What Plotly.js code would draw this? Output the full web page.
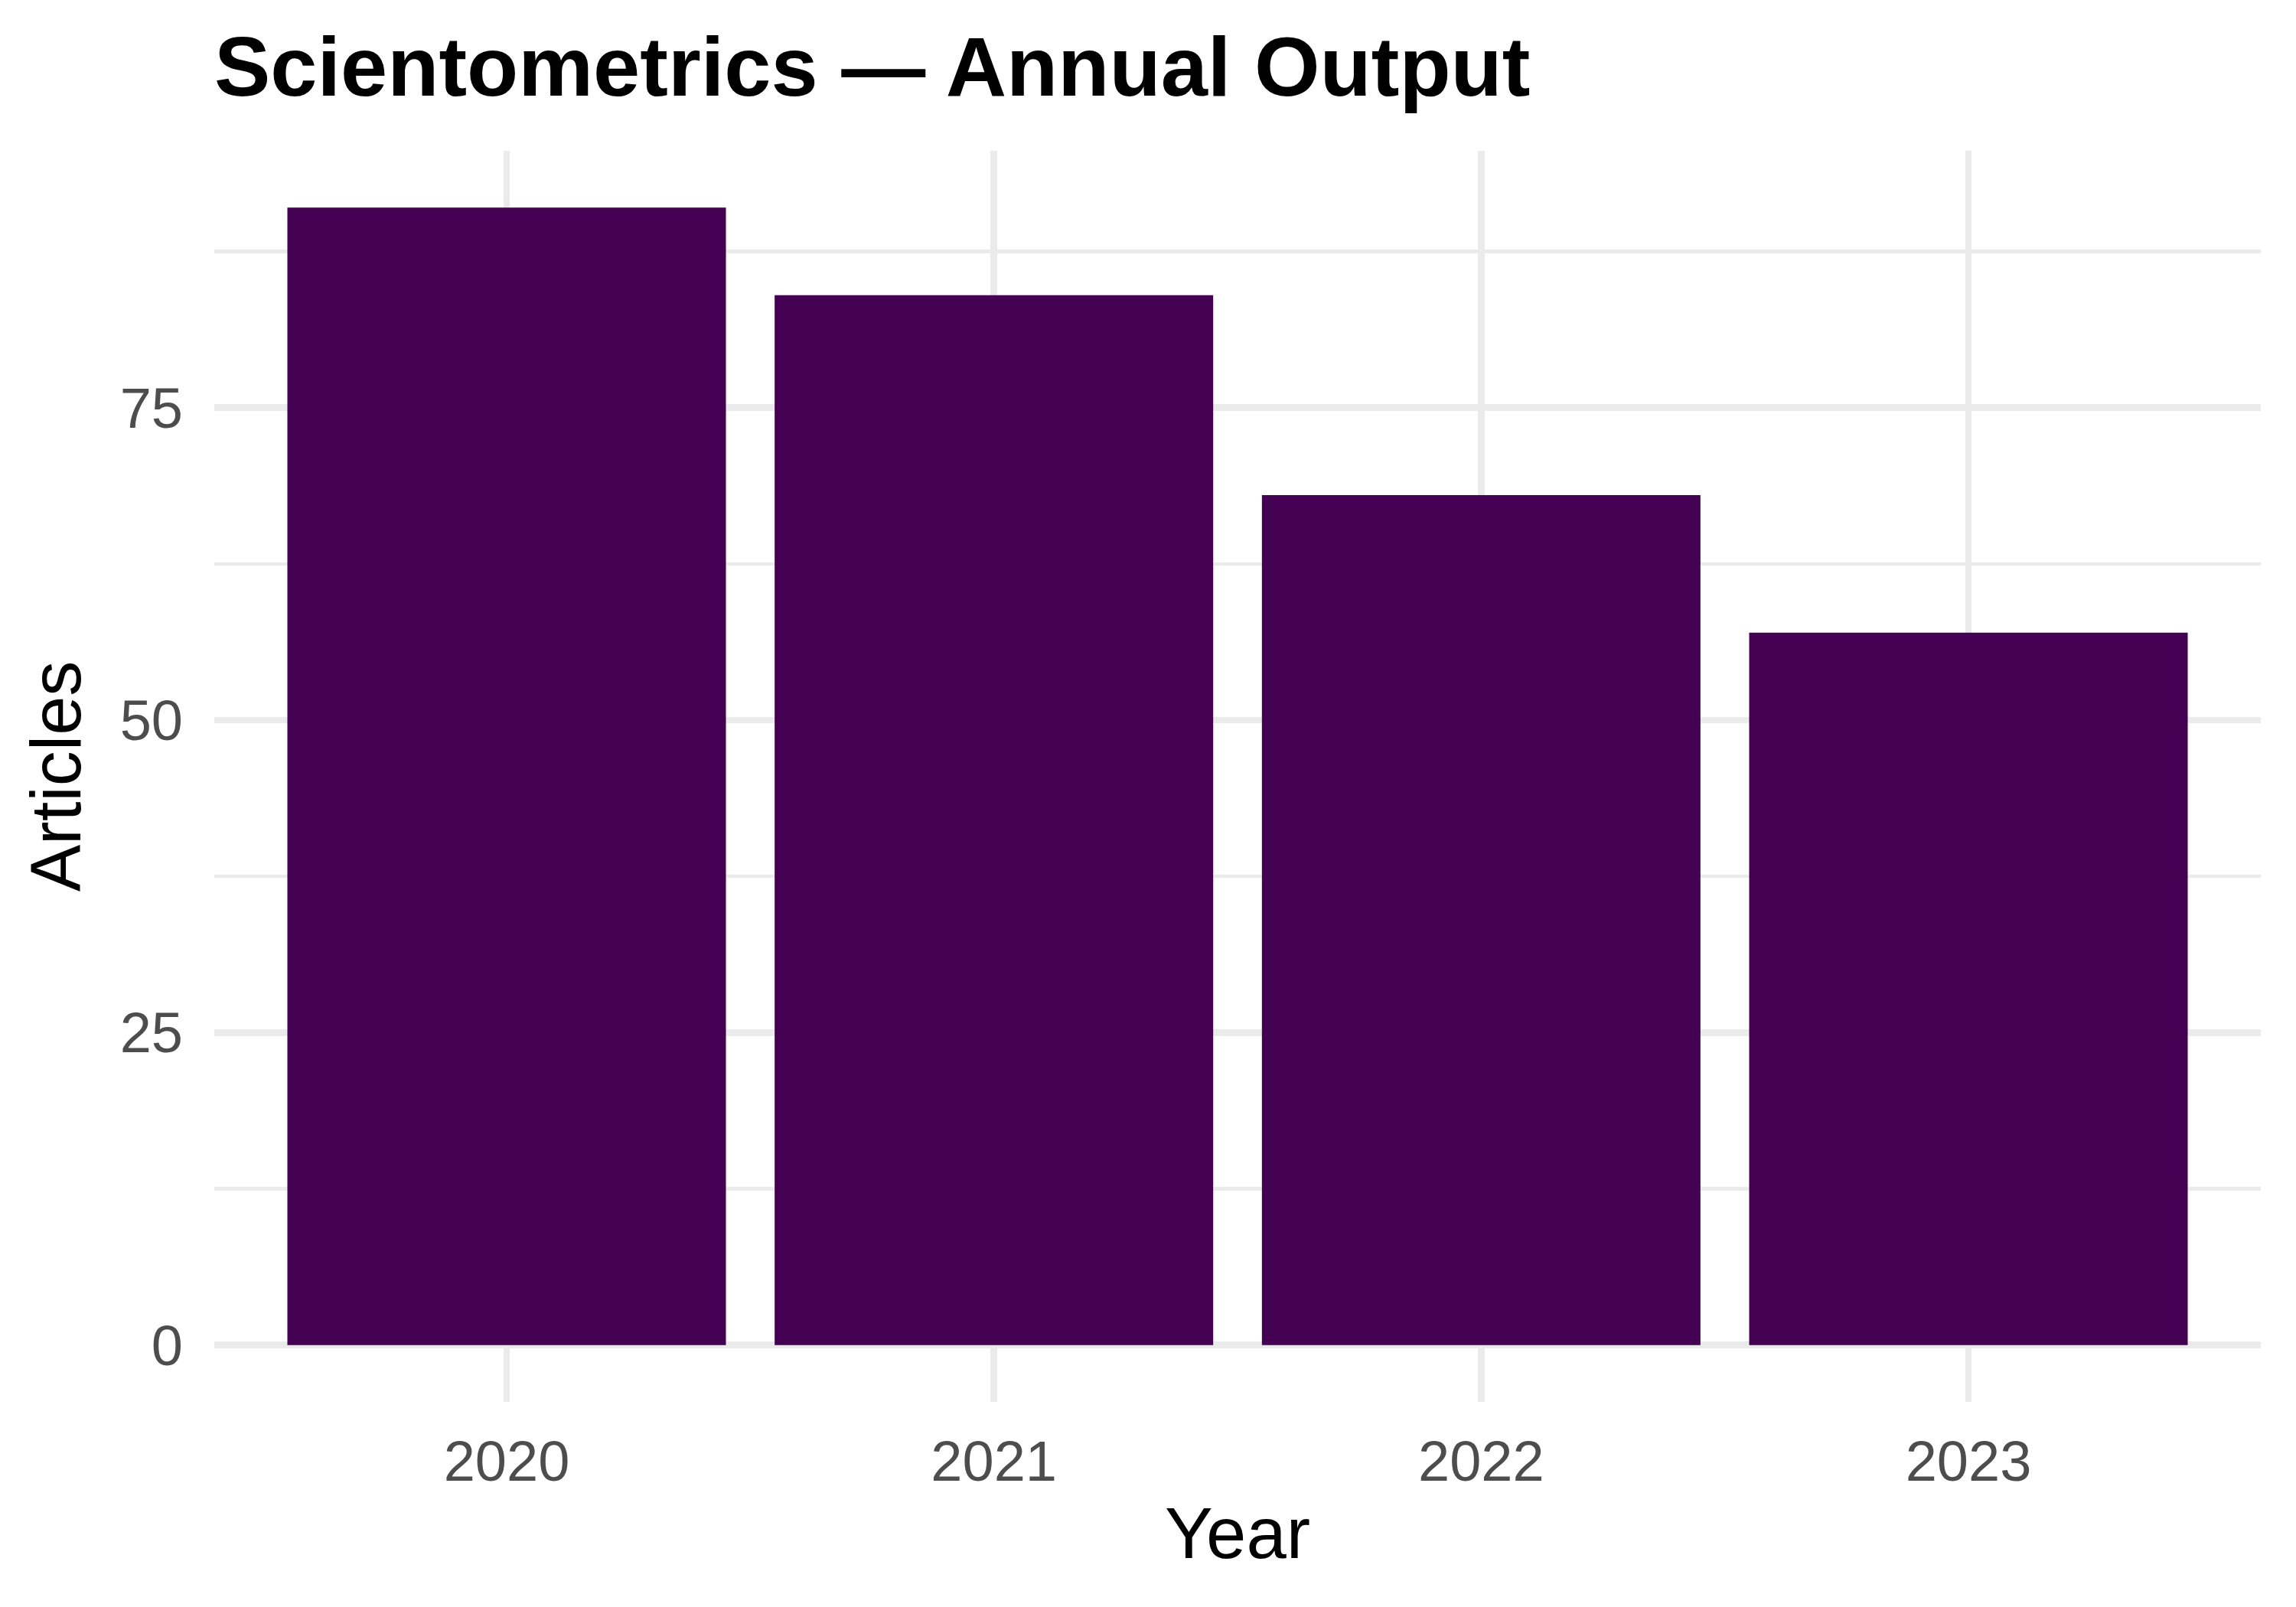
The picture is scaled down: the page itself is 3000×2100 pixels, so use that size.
<!DOCTYPE html>
<html>
<head>
<meta charset="utf-8">
<script src="https://cdn.plot.ly/plotly-3.0.1.min.js"></script>
<style>
  html, body { margin: 0; padding: 0; background: #ffffff; }
  #chart { width: 3000px; height: 2100px; }
</style>
</head>
<body>
<div id="chart"></div>
<script>
// Annual article counts
const years = ["2020", "2021", "2022", "2023"];
const articles = [91, 84, 68, 57];
const yTickVals = [0, 25, 50, 75];
const yTickText = ["0", "25", "50", "75"];

const FONT = "Liberation Sans, Arial, Helvetica, sans-serif";
const GRID = "#ebebeb";

const trace = {
  x: years,
  y: articles,
  type: "bar",
  marker: { color: "#440154", line: { width: 0 } },
  hoverinfo: "x+y",
};

const layout = {
  width: 3000,
  height: 2100,
  margin: { l: 280, r: 46, t: 197, b: 268 },
  paper_bgcolor: "#ffffff",
  plot_bgcolor: "#ffffff",
  showlegend: false,
  bargap: 0.1,
  font: { family: FONT, color: "#000000" },
  title: {
    text: "<b>Scientometrics — Annual Output</b>",
    font: { family: FONT, size: 110, color: "#000000" },
    xref: "paper",
    x: 0,
    xanchor: "left",
    yref: "container",
    y: 1 - 86 / 2100,
    yanchor: "middle",
  },
  xaxis: {
    type: "category",
    range: [-0.6, 3.6],
    showgrid: true,
    gridcolor: GRID,
    gridwidth: 8.5,
    zeroline: false,
    showline: false,
    ticks: "",
    ticklabelstandoff: 28,
    tickfont: { family: FONT, size: 74, color: "#4d4d4d" },
    title: {
      text: "Year",
      font: { family: FONT, size: 94, color: "#000000" },
      standoff: 20,
    },
    automargin: false,
    fixedrange: true,
  },
  yaxis: {
    range: [-4.55, 95.55],
    tickmode: "array",
    tickvals: yTickVals,
    ticktext: yTickText,
    showgrid: true,
    gridcolor: GRID,
    gridwidth: 8.5,
    minor: {
      tickmode: "array",
      tickvals: [12.5, 37.5, 62.5, 87.5],
      showgrid: true,
      gridcolor: GRID,
      gridwidth: 4.3,
      ticks: "",
    },
    zeroline: false,
    showline: false,
    ticks: "",
    ticklabelstandoff: 40,
    tickfont: { family: FONT, size: 74, color: "#4d4d4d" },
    title: {
      text: "Articles",
      font: { family: FONT, size: 92, color: "#000000" },
      standoff: 20,
    },
    automargin: false,
    fixedrange: true,
  },
};

Plotly.newPlot("chart", [trace], layout, { displayModeBar: false, staticPlot: true });
</script>
</body>
</html>
